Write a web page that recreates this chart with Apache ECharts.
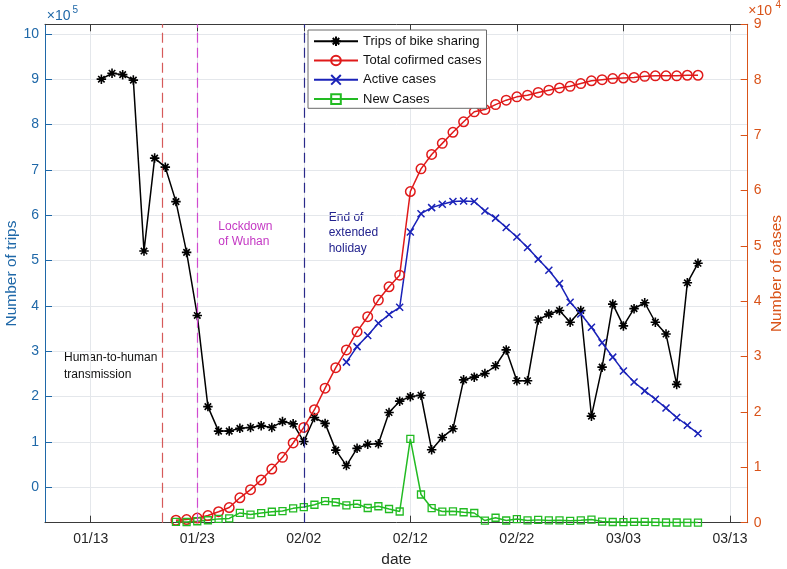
<!DOCTYPE html>
<html><head><meta charset="utf-8">
<script src="https://cdn.jsdelivr.net/npm/echarts@6/dist/echarts.min.js"></script>
<style>html,body{margin:0;padding:0;background:#fff}#c{width:787px;height:569px}</style>
</head><body><div id="c"></div>
<script>
// ---------------- data ----------------
const dates = [
 '2020-01-14','2020-01-15','2020-01-16','2020-01-17','2020-01-18','2020-01-19','2020-01-20','2020-01-21','2020-01-22','2020-01-23',
 '2020-01-24','2020-01-25','2020-01-26','2020-01-27','2020-01-28','2020-01-29','2020-01-30','2020-01-31',
 '2020-02-01','2020-02-02','2020-02-03','2020-02-04','2020-02-05','2020-02-06','2020-02-07','2020-02-08','2020-02-09','2020-02-10',
 '2020-02-11','2020-02-12','2020-02-13','2020-02-14','2020-02-15','2020-02-16','2020-02-17','2020-02-18','2020-02-19','2020-02-20',
 '2020-02-21','2020-02-22','2020-02-23','2020-02-24','2020-02-25','2020-02-26','2020-02-27','2020-02-28','2020-02-29',
 '2020-03-01','2020-03-02','2020-03-03','2020-03-04','2020-03-05','2020-03-06','2020-03-07','2020-03-08','2020-03-09','2020-03-10'
];
const trips = [
 900000,913000,910000,898000,521000,726000,706000,630000,518000,379000,
 178000,124000,124000,130000,132000,136000,132000,145000,
 140000,101000,154000,141000,82000,48000,86000,95000,96000,165000,
 190000,200000,203000,83000,110000,129000,237000,243000,251000,268000,
 303000,235000,235000,369000,382000,390000,364000,390000,157000,
 265000,404000,356000,394000,407000,364000,338000,227000,451000,494000
];
const totalCases = [
 null,null,null,null,null,null,null,440,570,830,
 1290,1980,2740,4500,5970,7710,9690,11800,
 14400,17200,20400,24300,28000,31200,34500,37200,40200,42600,
 44700,59800,63900,66500,68500,70500,72400,74200,74600,75500,
 76300,76900,77200,77700,78100,78500,78800,79300,79800,
 80000,80200,80300,80400,80600,80700,80700,80700,80800,80800
];
const activeCases = [
 null,null,null,null,null,null,null,null,null,null,
 null,null,null,null,null,null,null,null,
 null,null,null,null,null,29000,31800,33800,36000,37600,
 38900,52500,55800,56900,57500,58000,58100,58000,56300,55000,
 53300,51600,49700,47600,45600,43200,39800,37700,35300,
 32500,29900,27400,25400,23800,22300,20700,19000,17600,16100
];
const newCases = [
 null,null,null,null,null,null,null,150,130,260,
 440,690,770,1770,1460,1740,1980,2100,
 2590,2830,3240,3890,3690,3140,3390,2650,2970,2470,
 2020,15150,5090,2640,2010,2050,1890,1750,390,890,
 400,650,410,510,410,430,330,430,570,
 200,130,120,140,140,100,40,40,20,20
];
const seriesNames = ['Trips of bike sharing','Total cofirmed cases','Active cases','New Cases'];
const xTickDates = ['2020-01-13','2020-01-23','2020-02-02','2020-02-12','2020-02-22','2020-03-03','2020-03-13'];
const xTickLabels = ['01/13','01/23','02/02','02/12','02/22','03/03','03/13'];
const xRange = ['2020-01-08T17:00','2020-03-14T16:00'];
const yLeftTicks = [0,100000,200000,300000,400000,500000,600000,700000,800000,900000,1000000];
const yRightTicks = [0,10000,20000,30000,40000,50000,60000,70000,80000,90000];
const eventDates = ['2020-01-19T18:00','2020-01-23T00:00','2020-02-02T00:00'];
const eventNotes = ['Human-to-human\ntransmission','Lockdown\nof Wuhan','End of\nextended\nholiday'];

// ---------------- helpers ----------------
const DAY0 = Date.UTC(2020,0,13);
function dayOf(s){
  const m = s.match(/(\d+)-(\d+)-(\d+)(?:T(\d+):(\d+))?/);
  return (Date.UTC(+m[1], +m[2]-1, +m[3], +(m[4]||0), +(m[5]||0)) - DAY0) / 86400000;
}
function pairs(vals){ const out=[]; vals.forEach((v,i)=>{ if(v!=null) out.push([dayOf(dates[i]), v]); }); return out; }
const xTicks = xTickDates.map(dayOf);

const FONT = 'Liberation Sans, Arial, Helvetica, sans-serif';
const BLUE_AX = '#1f68a8', ORANGE_AX = '#D95319', DARK = '#3a3a3a', GRID = '#e4e7eb';
const STAR = 'path://M5,0L5,10M0,5L10,5M1.6,1.6L8.4,8.4M8.4,1.6L1.6,8.4';
const XMARK = 'path://M0,0L10,10M10,0L0,10';
const eventColors = ['#d65a5a','#d04ad0','#2a2a8a'];

const chart = echarts.init(document.getElementById('c'), null, {renderer:'canvas'});
chart.setOption({
  animation:false,
  backgroundColor:'#fff',
  textStyle:{fontFamily:FONT},
  grid:{left:45, right:39.3, top:24.3, bottom:46.3, containLabel:false, outerBoundsMode:'none'},
  legend:{
    left:308, top:30, orient:'vertical',
    padding:[4.7,5,2.7,5], itemWidth:44, itemHeight:12, itemGap:6.3,
    backgroundColor:'#fff', borderColor:'#6a6a6a', borderWidth:1,
    textStyle:{fontSize:13, color:'#111', lineHeight:12, fontFamily:FONT},
    data:seriesNames
  },
  xAxis:[
    {type:'value', position:'bottom', min:dayOf(xRange[0]), max:dayOf(xRange[1]),
     axisLine:{show:true, onZero:false, lineStyle:{color:DARK, width:1}},
     axisTick:{show:true, inside:true, length:7, customValues:xTicks, lineStyle:{color:DARK}},
     axisLabel:{customValues:xTicks, fontSize:14, color:'#262626', margin:9,
       formatter:(v)=>{ const i = xTicks.indexOf(v); return i>=0 ? xTickLabels[i] : ''; }},
     splitLine:{show:true, lineStyle:{color:GRID, width:1}},
     name:'date', nameLocation:'middle', nameGap:29, nameTextStyle:{fontSize:15.5, color:'#262626'}
    },
    {type:'value', position:'top', min:dayOf(xRange[0]), max:dayOf(xRange[1]),
     axisLine:{show:true, onZero:false, lineStyle:{color:DARK, width:1}},
     axisTick:{show:true, inside:true, length:7, customValues:xTicks, lineStyle:{color:DARK}},
     axisLabel:{show:false}, splitLine:{show:false}
    }
  ],
  yAxis:[
    {type:'value', position:'left', min:-78000, max:1021000,
     axisLine:{show:true, onZero:false, lineStyle:{color:BLUE_AX, width:1}},
     axisTick:{show:true, inside:true, length:7, customValues:yLeftTicks, lineStyle:{color:BLUE_AX}},
     axisLabel:{customValues:yLeftTicks, fontSize:14, color:BLUE_AX, margin:6, formatter:(v)=>String(Math.round(v/1e5))},
     splitLine:{show:true, lineStyle:{color:GRID, width:1}},
     name:'Number of trips', nameLocation:'middle', nameGap:25, nameRotate:90, nameMoveOverlap:false,
     nameTextStyle:{fontSize:15.5, color:BLUE_AX}
    },
    {type:'value', position:'right', min:0, max:90000,
     axisLine:{show:true, onZero:false, lineStyle:{color:ORANGE_AX, width:1}},
     axisTick:{show:true, inside:true, length:7, customValues:yRightTicks, lineStyle:{color:ORANGE_AX}},
     axisLabel:{customValues:yRightTicks, fontSize:14, color:ORANGE_AX, margin:6, formatter:(v)=>String(Math.round(v/1e4))},
     splitLine:{show:false},
     name:'Number of cases', nameLocation:'middle', nameGap:21, nameRotate:90, nameMoveOverlap:false,
     nameTextStyle:{fontSize:15.5, color:ORANGE_AX}
    }
  ],
  series:[
    {name:seriesNames[0], type:'line', xAxisIndex:0, yAxisIndex:0, data:pairs(trips),
     symbol:STAR, symbolSize:9.5, lineStyle:{color:'#000', width:1.5},
     itemStyle:{color:'transparent', borderColor:'#000', borderWidth:1.6},
     markLine:{silent:true, symbol:['none','none'], label:{show:false},
       data:eventDates.map((d,i)=>({xAxis:dayOf(d), lineStyle:{color:eventColors[i], type:[10,5], width:1.2}}))}
    },
    {name:seriesNames[1], type:'line', xAxisIndex:0, yAxisIndex:1, data:pairs(totalCases),
     symbol:'circle', symbolSize:9.5, lineStyle:{color:'#e01a1a', width:1.5},
     itemStyle:{color:'transparent', borderColor:'#e01a1a', borderWidth:1.5}},
    {name:seriesNames[2], type:'line', xAxisIndex:0, yAxisIndex:1, data:pairs(activeCases),
     symbol:XMARK, symbolSize:7, lineStyle:{color:'#1a22b8', width:1.5},
     itemStyle:{color:'transparent', borderColor:'#1a22b8', borderWidth:1.5}},
    {name:seriesNames[3], type:'line', xAxisIndex:0, yAxisIndex:1, data:pairs(newCases),
     symbol:'rect', symbolSize:7, lineStyle:{color:'#22bb22', width:1.5},
     itemStyle:{color:'transparent', borderColor:'#22bb22', borderWidth:1.3}}
  ],
  graphic:[
    {type:'text', left:46.7, top:9, style:{text:'×10', fontSize:14, fill:BLUE_AX, fontFamily:FONT}},
    {type:'text', left:72.5, top:5, style:{text:'5', fontSize:10, fill:BLUE_AX, fontFamily:FONT}},
    {type:'text', left:748.3, top:4.5, style:{text:'×10', fontSize:14, fill:ORANGE_AX, fontFamily:FONT}},
    {type:'text', left:775.5, top:0.5, style:{text:'4', fontSize:10, fill:ORANGE_AX, fontFamily:FONT}},
    {type:'text', left:64, top:349.5, style:{text:eventNotes[0], fontSize:12, lineHeight:16.5, fill:'#111', fontFamily:FONT}},
    {type:'text', left:218.3, top:219, style:{text:eventNotes[1], fontSize:12, lineHeight:15.3, fill:'#c438c4', fontFamily:FONT}},
    {type:'text', left:328.7, top:210, style:{text:eventNotes[2], fontSize:12, lineHeight:15.3, fill:'#23238e', fontFamily:FONT}}
  ]
});
</script></body></html>
